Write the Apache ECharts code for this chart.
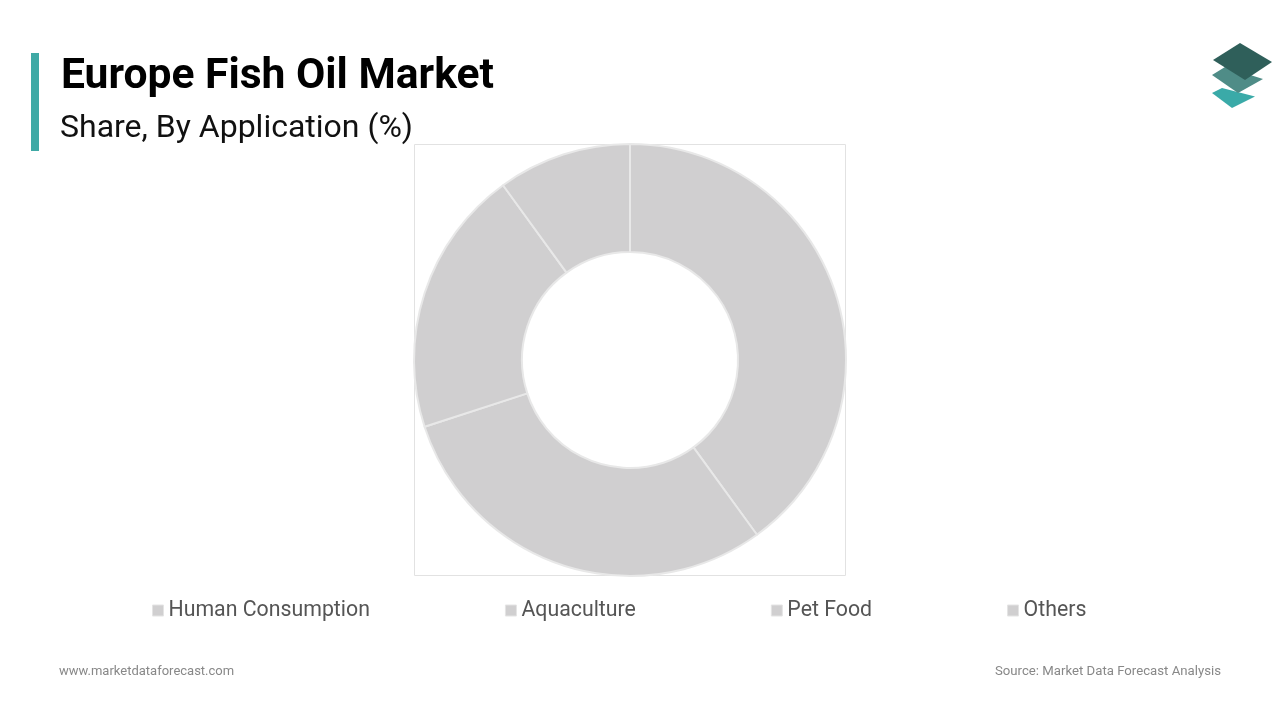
<!DOCTYPE html>
<html>
<head>
<meta charset="utf-8">
<script src="https://cdn.jsdelivr.net/npm/echarts@6/dist/echarts.min.js"></script>
<style>html,body{margin:0;padding:0;background:#fff;}#main{width:1280px;height:720px;}</style>
</head>
<body>
<div id="main"></div>
<script>
const categories = ['Human Consumption', 'Aquaculture', 'Pet Food', 'Others'];
const shares = [40, 30, 20, 10];
const titleText = 'Europe Fish Oil Market';
const subtitleText = 'Share, By Application (%)';
const footerLeft = 'www.marketdataforecast.com';
const footerRight = 'Source: Market Data Forecast Analysis';

const chart = echarts.init(document.getElementById('main'));
const option = {
  backgroundColor: '#ffffff',
  animation: false,
  title: [
    { text: titleText, left: 56, top: 51, textStyle: { fontFamily: 'Roboto', fontWeight: 'bold', fontSize: 42.6, color: '#000' } },
    { text: subtitleText, left: 55, top: 108, textStyle: { fontFamily: 'Roboto', fontWeight: 'normal', fontSize: 32, color: '#111' } }
  ],
  legend: {
    data: categories,
    left: 147,
    top: 595,
    itemWidth: 11,
    itemHeight: 11,
    itemGap: 135,
    icon: 'rect',
    textStyle: { fontFamily: 'Roboto', fontSize: 21.3, color: '#555' },
    itemStyle: { color: '#d0cfd0', borderColor: '#e4e4e4', borderWidth: 1 }
  },
  graphic: [
    { type: 'rect', shape: { x: 31, y: 53, width: 8, height: 98 }, style: { fill: '#3fa9a5' } },
    { type: 'rect', shape: { x: 414.5, y: 144.5, width: 431, height: 431 }, style: { fill: 'none', stroke: '#e2e2e2', lineWidth: 1 }, z: -1 },
    { type: 'polygon', shape: { points: [[1212, 93], [1222, 88], [1255, 96.5], [1232, 108]] }, style: { fill: '#3aaaa8' } },
    { type: 'polygon', shape: { points: [[1212, 75], [1225, 67], [1263, 79], [1238, 93]] }, style: { fill: '#4f8c87' } },
    { type: 'polygon', shape: { points: [[1213, 60], [1240, 43], [1272, 62], [1245, 80]] }, style: { fill: '#2f5f5a' } },
    { type: 'text', left: 59, top: 665, style: { text: footerLeft, fontFamily: 'Roboto', fontSize: 13, fill: '#888' } },
    { type: 'text', right: 59, top: 665, style: { text: footerRight, fontFamily: 'Roboto', fontSize: 13.2, fill: '#888' } }
  ],
  series: [{
    type: 'pie',
    center: [630, 360],
    radius: [108, 216],
    startAngle: 90,
    clockwise: true,
    label: { show: false },
    labelLine: { show: false },
    emphasis: { disabled: true },
    itemStyle: { color: '#d0cfd0', borderColor: '#e8e8e8', borderWidth: 2 },
    data: categories.map((c, i) => ({ name: c, value: shares[i] }))
  }]
};
chart.setOption(option);
</script>
</body>
</html>
